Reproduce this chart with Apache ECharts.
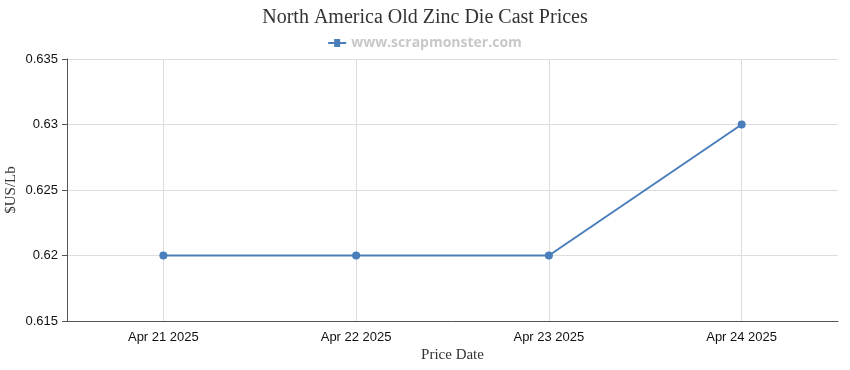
<!DOCTYPE html>
<html><head><meta charset="utf-8">
<script src="https://cdn.jsdelivr.net/npm/echarts@6/dist/echarts.min.js"></script>
<style>html,body{margin:0;padding:0;background:#fff}#c{width:850px;height:370px}</style>
</head><body><div id="c"></div>
<script>
const categories = ['Apr 21 2025', 'Apr 22 2025', 'Apr 23 2025', 'Apr 24 2025'];
const prices = [0.62, 0.62, 0.62, 0.63];
const yTicks = { min: 0.615, max: 0.635, interval: 0.005 };
const seriesName = 'www.scrapmonster.com';

const chart = echarts.init(document.getElementById('c'));
chart.setOption({
  animation: false,
  title: { text: 'North America Old Zinc Die Cast Prices', left: 'center', top: 3,
    textStyle: { fontFamily: 'Liberation Serif', fontWeight: 'normal', fontSize: 20, color: '#333' } },
  legend: { top: 31, left: 'center', itemWidth: 18, itemHeight: 8, itemGap: 5,
    textStyle: { fontFamily: 'Open Sans', fontWeight: 'bold', fontSize: 14, color: '#c8c8c8' },
    data: [{ name: seriesName, icon: 'path://M0,3h6v-3h6v3h6v2h-6v3h-6v-3h-6z' }] },
  grid: { left: 67, right: 12, top: 59, bottom: 49, containLabel: false, outerBoundsMode: 'none' },
  xAxis: { type: 'category', data: categories, boundaryGap: true,
    name: 'Price Date', nameLocation: 'middle', nameGap: 27, nameMoveOverlap: false,
    nameTextStyle: { fontFamily: 'Liberation Serif', fontSize: 15, color: '#333' },
    axisLine: { lineStyle: { color: '#555' } },
    axisTick: { alignWithLabel: true, length: 5, lineStyle: { color: '#555' } },
    axisLabel: { fontFamily: 'Liberation Sans', fontSize: 13, color: '#111', margin: 10 },
    splitLine: { show: true, alignWithLabel: true, lineStyle: { color: '#ddd' } } },
  yAxis: { type: 'value', min: yTicks.min, max: yTicks.max, interval: yTicks.interval,
    name: '$US/Lb', nameLocation: 'middle', nameGap: 48, nameMoveOverlap: false,
    nameTextStyle: { fontFamily: 'Liberation Serif', fontSize: 15, color: '#333' },
    axisLine: { show: true, lineStyle: { color: '#555' } },
    axisTick: { show: true, length: 5, lineStyle: { color: '#555' } },
    axisLabel: { fontFamily: 'Liberation Sans', fontSize: 13, color: '#111', margin: 9,
      formatter: v => String(parseFloat(v.toFixed(4))) },
    splitLine: { lineStyle: { color: '#ddd' } } },
  series: [{ name: seriesName, type: 'line', data: prices, symbol: 'circle', symbolSize: 8,
    lineStyle: { color: '#4a7ebb', width: 2 }, itemStyle: { color: '#4a7ebb' } }]
});
</script></body></html>
